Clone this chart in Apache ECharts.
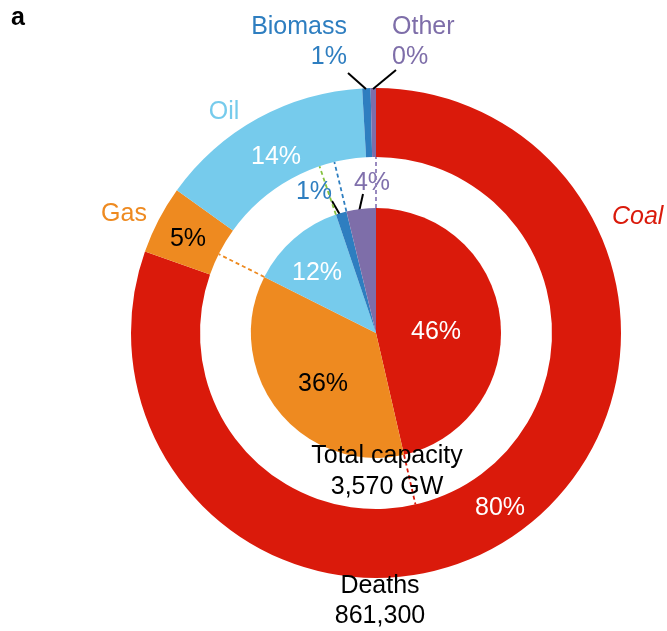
<!DOCTYPE html>
<html>
<head>
<meta charset="utf-8">
<script src="https://cdn.jsdelivr.net/npm/echarts@6/dist/echarts.min.js"></script>
<style>
html,body{margin:0;padding:0;background:#fff;}
#chart{width:667px;height:631px;}
</style>
</head>
<body>
<div id="chart"></div>
<script>
// ---------- data ----------
const categories = ['Coal', 'Gas', 'Oil', 'Biomass', 'Other'];
const deathsShare = [80.4, 4.5, 14.2, 0.55, 0.35];      // % of deaths (outer ring)
const capacityShare = [46.4, 36.0, 12.4, 1.4, 3.8];     // % of capacity (inner pie)
const capacityTitle = 'Total capacity';
const capacityTotal = '3,570 GW';
const deathsTitle = 'Deaths';
const deathsTotal = '861,300';
const panelLetter = 'a';

// ---------- styles / layout ----------
const colors = ['#DA1A0B', '#EE8A20', '#76CBEC', '#2E7EC0', '#7E6EA9'];
const dashColors = ['#DA1A0B', '#EE8A20', '#86C240', '#2E7EC0', '#8E7EB8'];
const outerPctColors = ['#ffffff', '#000000', '#ffffff', '#2E7EC0', '#7E6EA9'];
const innerPctColors = ['#ffffff', '#000000', '#ffffff', '#2E7EC0', '#8070AC'];
const FONT = '"Liberation Sans", Arial, Helvetica, sans-serif';
const FS = 25;
const C = [376, 333];
const R_OUT = [176, 245];
const R_IN = 125;
const DY = 2; // vertical text nudge

// label anchor positions (px)
const namePos = [[612, 215, 'left'], [124, 212, 'center'], [224, 110, 'center'], [347, 40, 'right'], [392, 40, 'left']];
const outerPctPos = [[500, 506], [188, 237], [276, 155], null, null];
const innerPctPos = [[436, 330], [323, 382], [317, 271], [314, 190], [372, 181]];
const nameLeaders = {3: [[348, 73], [366, 89]], 4: [[396, 70], [373, 89]]};
const innerLeaders = {3: [[332, 201], [343, 220]], 4: [[363, 194], [358, 216]]};

const chart = echarts.init(document.getElementById('chart'), null, {renderer: 'canvas'});

const capSum = capacityShare.reduce((a, b) => a + b, 0);
const cum = [];
capacityShare.reduce((acc, v) => { const n = acc + v; cum.push(n / capSum * 100); return n; }, 0);

const dashSeries = cum.map((a, i) => ({
  type: 'line',
  coordinateSystem: 'polar',
  data: [[R_IN, a], [R_OUT[0], a]],
  symbol: 'none',
  silent: true,
  animation: false,
  z: 5,
  lineStyle: {type: [4, 3], width: 1.8, color: dashColors[i]}
}));

const option = {
  animation: false,
  backgroundColor: '#ffffff',
  polar: {center: C, radius: R_OUT[1]},
  angleAxis: {type: 'value', min: 0, max: 100, startAngle: 90, clockwise: true, show: false},
  radiusAxis: {type: 'value', min: 0, max: R_OUT[1], show: false},
  graphic: [
    {type: 'text', left: 11, top: 6, style: {text: panelLetter, font: 'bold 25px ' + FONT, fill: '#000'}},
    {type: 'text', x: 387, y: 470 + DY, style: {text: capacityTitle + '\n' + capacityTotal, font: FS + 'px ' + FONT, fill: '#000', align: 'center', verticalAlign: 'middle', lineHeight: 31}, z: 10},
    {type: 'text', x: 380, y: 599 + DY, style: {text: deathsTitle + '\n' + deathsTotal, font: FS + 'px ' + FONT, fill: '#000', align: 'center', verticalAlign: 'middle', lineHeight: 30}, z: 10}
  ],
  series: [
    // outer ring: deaths
    {
      type: 'pie', center: C, radius: R_OUT, startAngle: 90, clockwise: true,
      silent: true, avoidLabelOverlap: false,
      itemStyle: {borderWidth: 0},
      label: {show: true, position: 'inside', fontSize: FS, fontFamily: FONT,
        formatter: p => Math.round(p.value) + '%'},
      labelLine: {show: false},
      data: categories.map((n, i) => ({
        name: n, value: deathsShare[i],
        itemStyle: {color: colors[i]},
        label: {show: outerPctPos[i] !== null, color: outerPctColors[i]}
      })),
      labelLayout: p => {
        const pos = outerPctPos[p.dataIndex];
        return pos ? {x: pos[0], y: pos[1] + DY, align: 'center', verticalAlign: 'middle'} : {};
      }
    },
    // outer ring: category names
    {
      type: 'pie', center: C, radius: R_OUT, startAngle: 90, clockwise: true,
      silent: true, avoidLabelOverlap: false, z: 3,
      itemStyle: {color: 'rgba(0,0,0,0)', borderWidth: 0},
      label: {show: true, position: 'outside', fontSize: FS, fontFamily: FONT, lineHeight: 30,
        formatter: p => p.dataIndex >= 3 ? p.name + '\n' + Math.round(p.value) + '%' : p.name},
      labelLine: {show: false, lineStyle: {color: '#000', width: 2}},
      data: categories.map((n, i) => ({
        name: n, value: deathsShare[i],
        itemStyle: {color: 'rgba(0,0,0,0)'},
        label: {color: colors[i], fontStyle: n === 'Coal' ? 'italic' : 'normal', align: namePos[i][2]},
        labelLine: {show: !!nameLeaders[i], lineStyle: {color: '#000', width: 2}}
      })),
      labelLayout: p => {
        const pos = namePos[p.dataIndex];
        const o = {x: pos[0], y: pos[1] + DY, align: pos[2], verticalAlign: 'middle'};
        if (nameLeaders[p.dataIndex]) o.labelLinePoints = nameLeaders[p.dataIndex];
        return o;
      }
    },
    // inner pie: capacity
    {
      type: 'pie', center: C, radius: [0, R_IN], startAngle: 90, clockwise: true,
      silent: true, avoidLabelOverlap: false,
      itemStyle: {borderWidth: 0},
      label: {show: true, fontSize: FS, fontFamily: FONT, formatter: p => Math.round(p.value) + '%'},
      labelLine: {show: false, lineStyle: {color: '#000', width: 2}},
      data: categories.map((n, i) => ({
        name: n, value: capacityShare[i],
        itemStyle: {color: colors[i]},
        label: {position: innerLeaders[i] ? 'outside' : 'inside', color: innerPctColors[i]},
        labelLine: {show: !!innerLeaders[i], lineStyle: {color: '#000', width: 2}}
      })),
      labelLayout: p => {
        const pos = innerPctPos[p.dataIndex];
        const o = {x: pos[0], y: pos[1] + DY, align: 'center', verticalAlign: 'middle'};
        if (innerLeaders[p.dataIndex]) o.labelLinePoints = innerLeaders[p.dataIndex];
        return o;
      }
    }
  ].concat(dashSeries)
};

chart.setOption(option);
</script>
</body>
</html>
